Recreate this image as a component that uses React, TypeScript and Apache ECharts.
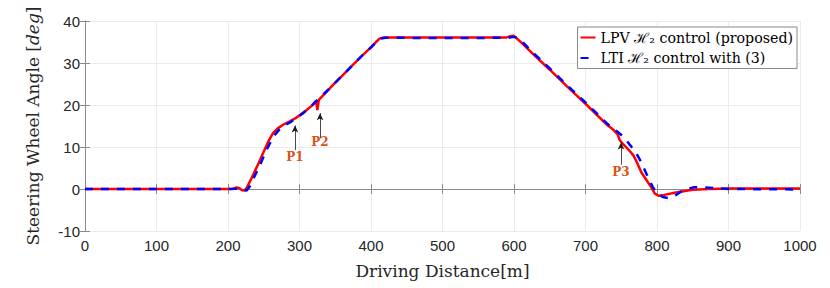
import React, { useEffect, useRef } from "react";
import * as echarts from "echarts";

// ---- data ----
const lpvName = "LPV ℋ₂ control (proposed)";
const ltiName = "LTI ℋ₂ control with (3)";

const lpvDistance = [0, 200, 207, 212, 216, 220, 223, 226, 233, 241, 249, 256, 263, 270, 277, 285, 294, 302, 310, 317, 323, 325, 327, 333, 347, 361, 375, 388, 401, 407, 412, 418, 500, 590, 595, 599, 603, 610, 630, 650, 664, 680, 700, 715, 730, 739, 745, 748, 753, 760, 767, 772, 778, 785, 792, 797, 802, 810, 830, 850, 874, 900, 1000];
const lpvAngle = [0, 0, 0.05, 0.35, 0.2, -0.3, -0.35, 0.2, 2.6, 5.5, 8.5, 11.2, 13.3, 14.5, 15.3, 16.0, 16.8, 17.8, 18.8, 19.8, 21.0, 18.8, 21.2, 22.3, 24.8, 27.2, 29.6, 31.8, 33.9, 35.0, 35.8, 36.1, 36.05, 36.1, 36.4, 36.5, 36.0, 34.9, 31.6, 28.4, 26.1, 23.5, 20.3, 17.8, 15.3, 14.1, 13.0, 11.6, 10.6, 9.4, 8.0, 6.3, 4.0, 2.2, 0.4, -1.1, -1.6, -1.4, -0.7, -0.2, 0, 0.1, 0.1];

const ltiDistance = [0, 203, 210, 214, 218, 222, 226, 230, 237, 245, 252, 259, 266, 273, 280, 288, 296, 304, 312, 320, 328, 335, 347, 361, 375, 388, 401, 408, 414, 420, 500, 592, 597, 601, 605, 612, 630, 650, 664, 680, 700, 715, 730, 745, 752, 758, 764, 770, 776, 782, 788, 794, 800, 808, 816, 825, 835, 841, 852, 865, 880, 900, 1000];
const ltiAngle = [0, 0, 0.05, 0.1, 0, -0.3, -0.35, 0.5, 3.0, 5.8, 8.6, 11.0, 13.0, 14.4, 15.2, 16.0, 16.9, 17.9, 19.0, 20.3, 21.7, 22.8, 24.8, 27.2, 29.6, 31.8, 33.9, 35.1, 35.8, 36.0, 35.95, 36.0, 36.2, 36.2, 35.9, 35.0, 31.9, 28.7, 26.4, 23.8, 20.6, 18.1, 15.6, 13.6, 12.6, 11.4, 10.1, 8.8, 7.0, 4.8, 2.6, 0.5, -1.0, -1.9, -2.2, -1.6, -0.5, 0, 0.4, 0.4, 0.2, 0.0, -0.1];

// annotations (data coordinates)
const annotLabels = ["P1", "P2", "P3"];
const annotX = [293.7, 328.7, 749.7];
const arrowTip = [15.1, 18.05, 11.07];
const arrowTail = [9.3, 12.1, 5.8];
const annotLabelY = [7.6, 11.3, 4.0];

// axes
const xMin = 0, xMax = 1000, xStep = 100;
const yMin = -10, yMax = 40, yStep = 10;
const xTitle = "Driving Distance[m]";
const yTitle = "Steering Wheel Angle [{i|deg}]";

const SERIF = "DejaVu Serif";
const SANS = "Liberation Sans";
const AXIS_COLOR = "#8a8a8a";
const TEXT_COLOR = "#262626";

export default function App() {
  const ref = useRef<HTMLDivElement>(null);
  useEffect(() => {
    if (!ref.current) return;
    const chart = echarts.init(ref.current, undefined, { renderer: "svg" });
    const lpvData = lpvDistance.map((d, i) => [d, lpvAngle[i]]);
    const ltiData = ltiDistance.map((d, i) => [d, ltiAngle[i]]);

    const baseAxisLine = { show: true, lineStyle: { color: AXIS_COLOR, width: 1 } };
    const tick = { show: true, inside: true, length: 5, lineStyle: { color: AXIS_COLOR } };

    chart.setOption({
      animation: false,
      backgroundColor: "#ffffff",
      grid: { left: 85, right: 30, top: 21, bottom: 57, containLabel: false },
      legend: {
        orient: "vertical",
        right: 33,
        top: 27,
        data: [lpvName, ltiName],
        itemWidth: 15,
        itemHeight: 10,
        itemGap: 3.5,
        padding: [2, 4, 2, 2],
        borderColor: AXIS_COLOR,
        borderWidth: 1,
        backgroundColor: "#ffffff",
        itemStyle: { opacity: 0 },
        textStyle: { fontFamily: SERIF, fontSize: 14.2, color: "#000", lineHeight: 17 },
      },
      xAxis: [
        {
          type: "value",
          min: xMin,
          max: xMax,
          interval: xStep,
          position: "bottom",
          axisLine: baseAxisLine,
          axisTick: tick,
          axisLabel: {
            fontFamily: SANS,
            fontSize: 15,
            color: TEXT_COLOR,
            margin: 7,
            formatter: (v: number) => String(v),
          },
          splitLine: { show: true, lineStyle: { color: "#ebebeb", width: 1 } },
          name: xTitle,
          nameLocation: "middle",
          nameGap: 31,
          nameTextStyle: { fontFamily: SERIF, fontSize: 17, color: TEXT_COLOR },
        },
        {
          type: "value",
          min: xMin,
          max: xMax,
          interval: xStep,
          position: "top",
          axisLine: baseAxisLine,
          axisTick: tick,
          axisLabel: { show: false },
          splitLine: { show: false },
        },
      ],
      yAxis: [
        {
          type: "value",
          min: yMin,
          max: yMax,
          interval: yStep,
          position: "left",
          axisLine: baseAxisLine,
          axisTick: tick,
          axisLabel: { fontFamily: SANS, fontSize: 15, color: TEXT_COLOR, margin: 5 },
          splitLine: { show: true, lineStyle: { color: "#ebebeb", width: 1 } },
          name: yTitle,
          nameLocation: "middle",
          nameRotate: 90,
          nameGap: 44,
          nameTextStyle: {
            fontFamily: SERIF,
            fontSize: 17,
            color: TEXT_COLOR,
            rich: { i: { fontFamily: SERIF, fontSize: 17, fontStyle: "italic", color: TEXT_COLOR } },
          },
        },
        {
          type: "value",
          min: yMin,
          max: yMax,
          interval: yStep,
          position: "right",
          axisLine: baseAxisLine,
          axisTick: tick,
          axisLabel: { show: false },
          splitLine: { show: false },
        },
      ],
      series: [
        {
          name: lpvName,
          type: "line",
          data: lpvData,
          showSymbol: false,
          symbol: "none",
          lineStyle: { color: "#ff0000", width: 2.5 },
          itemStyle: { color: "#ff0000" },
          z: 2,
          markLine: {
            silent: true,
            symbol: ["none", "arrow"],
            symbolSize: [5, 7],
            label: { show: false },
            lineStyle: { color: "#1a1a1a", width: 0.8, type: "solid" },
            data: annotX.map((x, i) => [
              { coord: [x, arrowTail[i]] },
              { coord: [x, arrowTip[i]] },
            ]),
          },
          markPoint: {
            silent: true,
            symbol: "rect",
            symbolSize: 1,
            itemStyle: { color: "rgba(0,0,0,0)" },
            label: {
              show: true,
              position: "inside",
              fontFamily: SERIF,
              fontWeight: "bold",
              fontSize: 12,
              color: "#D95319",
              formatter: (p: any) => p.name,
            },
            data: annotX.map((x, i) => ({ name: annotLabels[i], coord: [x, annotLabelY[i]] })),
          },
        },
        {
          name: ltiName,
          type: "line",
          data: ltiData,
          showSymbol: false,
          symbol: "none",
          lineStyle: { color: "#0000ff", width: 2.5, type: [8, 8] },
          itemStyle: { color: "#0000ff" },
          z: 3,
        },
      ],
    });
    return () => chart.dispose();
  }, []);
  return (
    <div
      ref={ref}
      style={{ position: "absolute", left: 0, top: 0, width: 830, height: 288, background: "#fff" }}
    />
  );
}
